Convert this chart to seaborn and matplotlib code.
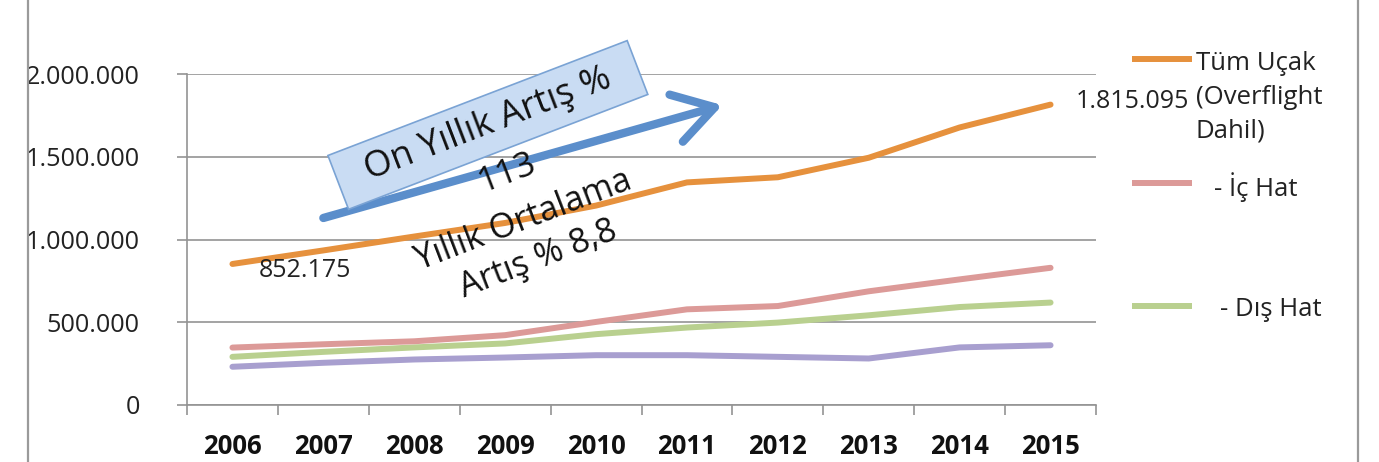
import numpy as np
import pandas as pd
import matplotlib.pyplot as plt
import seaborn as sns
from matplotlib.lines import Line2D
from matplotlib.ticker import FuncFormatter, FixedLocator

# values
years = ['2006', '2007', '2008', '2009', '2010', '2011', '2012', '2013', '2014', '2015']
tum_ucak = [852175, 934000, 1018000, 1100000, 1205000, 1345000, 1376000, 1494000, 1677000, 1815095]
ic_hat = [347000, 367000, 385000, 422000, 502000, 578000, 598000, 687000, 759000, 829000]
dis_hat = [291000, 321000, 348000, 372000, 428000, 468000, 498000, 542000, 592000, 619000]
overflight = [231000, 255000, 275000, 287000, 301000, 301000, 291000, 281000, 348000, 361000]

series_names = ['Tüm Uçak', 'İç Hat', 'Dış Hat', 'Overflight']
colors = {'Tüm Uçak': '#e6913d', 'İç Hat': '#dc9a98',
          'Dış Hat': '#b9d08f', 'Overflight': '#a89fcf'}

df = pd.DataFrame({'year': years, 'Tüm Uçak': tum_ucak, 'İç Hat': ic_hat,
                   'Dış Hat': dis_hat, 'Overflight': overflight})
long_df = df.melt(id_vars='year', var_name='seri', value_name='ucak')

sns.set_theme(style='white')
plt.rcParams['font.family'] = ['Open Sans', 'DejaVu Sans']

W, H = 1379, 462
fig = plt.figure(figsize=(W / 100, H / 100), dpi=100)
ax = fig.add_axes([187 / W, 1 - 405 / H, 909 / W, 331 / H])

grid_c = '#939393'
sns.lineplot(data=long_df, x='year', y='ucak', hue='seri', hue_order=series_names[::-1],
             palette=colors, linewidth=4.3, legend=False, ax=ax,
             solid_capstyle='round', solid_joinstyle='round')

ax.set_xlim(-0.5, len(years) - 0.5)
ax.set_ylim(0, 2000000)
ax.yaxis.set_major_locator(FixedLocator([0, 500000, 1000000, 1500000, 2000000]))
ax.yaxis.set_major_formatter(FuncFormatter(lambda v, p: f'{int(v):,}'.replace(',', '.')))
ax.grid(axis='y', color=grid_c, linewidth=1.2)
ax.set_axisbelow(True)
for s in ['top', 'right']:
    ax.spines[s].set_visible(False)
for s in ['left', 'bottom']:
    ax.spines[s].set_color(grid_c)
    ax.spines[s].set_linewidth(1.2)
ax.set_xlabel('')
ax.set_ylabel('')

# category boundary ticks like Excel
ax.xaxis.set_minor_locator(FixedLocator(np.arange(-0.5, len(years), 1)))
ax.tick_params(axis='x', which='major', length=0, pad=20, labelsize=18.5)
ax.tick_params(axis='x', which='minor', length=7, width=1.2, color=grid_c, bottom=True)
ax.tick_params(axis='y', which='major', length=7, width=1.2, color=grid_c, left=True,
               pad=27, labelsize=18.2, labelcolor='#222222')
for lab in ax.get_xticklabels():
    lab.set_fontweight('bold')
    lab.set_color('#111111')

# value labels at start and end
ax.annotate('852.175', xy=(0, tum_ucak[0]), xytext=(52, -5), textcoords='offset points',
            ha='center', va='center', fontsize=18, color='#222222')
ax.annotate('1.815.095', xy=(len(years) - 1, tum_ucak[-1]), xytext=(59, 2),
            textcoords='offset points', ha='center', va='center', fontsize=18,
            color='#222222', annotation_clip=False)

# blue arrow and texts
ax.annotate('', xy=(0.589, 0.906), xytext=(0.150, 0.565), xycoords='axes fraction',
            arrowprops=dict(arrowstyle='->,head_length=0.9,head_width=0.55', color='#5b8ecb',
                            lw=6, mutation_scale=32, shrinkA=0, shrinkB=0))
ax.text(0.331, 0.846, '  On Yıllık Artış %  ', transform=ax.transAxes, rotation=21,
        rotation_mode='anchor', ha='center', va='center', fontsize=26, color='#111111',
        bbox=dict(boxstyle='square,pad=0.3', facecolor='#c9dcf3', edgecolor='#7aa3d4',
                  linewidth=1.2))
ax.text(0.352, 0.701, '113', transform=ax.transAxes, rotation=21, rotation_mode='anchor',
        ha='center', va='center', fontsize=25, color='#111111')
ax.text(0.378, 0.498, 'Yıllık Ortalama\nArtış % 8,8', transform=ax.transAxes, rotation=21,
        rotation_mode='anchor', ha='center', va='center', fontsize=24.5, color='#111111',
        linespacing=1.3)

# legend drawn like the Excel one (left-aligned text, key at first line)
def fx(px):
    return px / W


def fy(py):
    return 1 - py / H


leg = [('Tüm Uçak\n(Overflight\nDahil)', 'Tüm Uçak', 59, 1196, 51, 'top'),
       ('- İç Hat', 'İç Hat', 183, 1214, 187, 'center'),
       ('- Dış Hat', 'Dış Hat', 306, 1220, 310, 'center')]
for label, key, ly, tx, ty, va in leg:
    fig.add_artist(Line2D([fx(1132), fx(1192)], [fy(ly), fy(ly)], color=colors[key],
                          linewidth=4.3, solid_capstyle='butt'))
    fig.text(fx(tx), fy(ty), label, ha='left', va=va, fontsize=18.5, color='#222222',
             linespacing=1.45)

# outer chart frame
for xp in [28, 1358]:
    fig.add_artist(Line2D([fx(xp), fx(xp)], [0, 1], color='#9a9a9a', linewidth=1.6))

fig.savefig('out.png', dpi=100)
